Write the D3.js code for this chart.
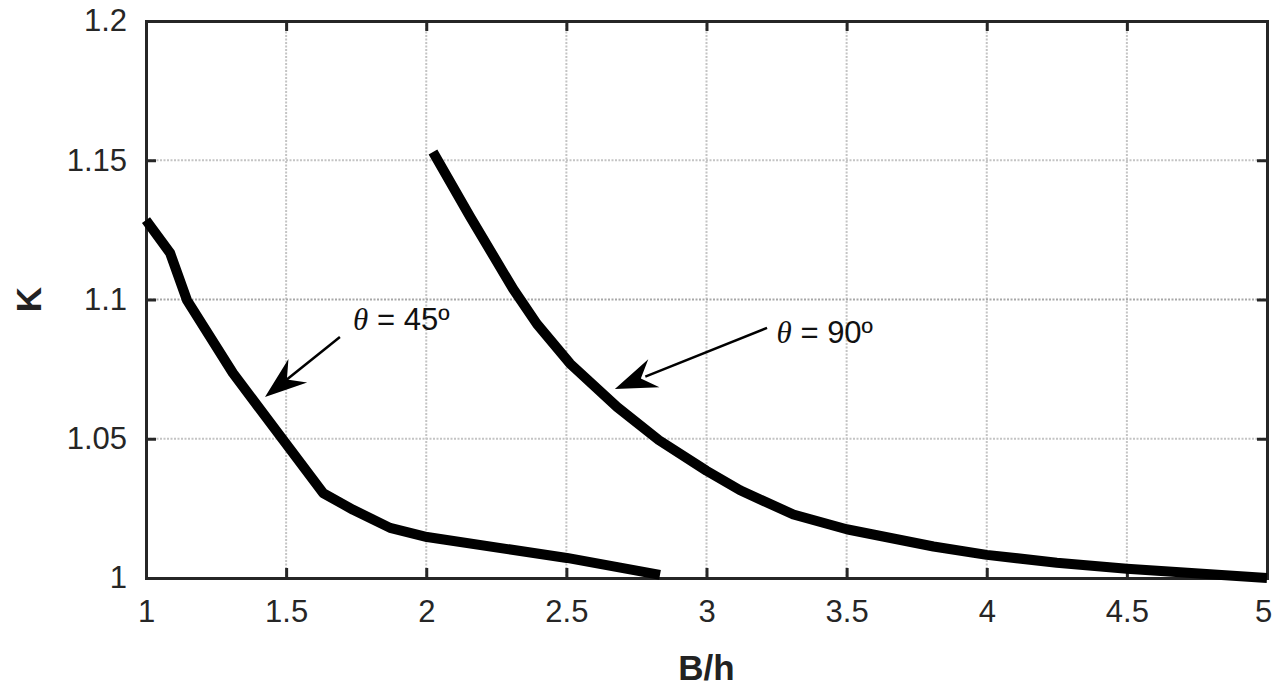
<!DOCTYPE html>
<html>
<head>
<meta charset="utf-8">
<script src="https://cdn.jsdelivr.net/npm/d3@7"></script>
<style>
  body { margin: 0; background: #fff; }
  svg { display: block; font-family: "Liberation Sans", Arial, sans-serif; }
</style>
</head>
<body>
<div id="chart"></div>
<script>
// data
const xTicks = [1, 1.5, 2, 2.5, 3, 3.5, 4, 4.5, 5];
const yTicks = [1, 1.05, 1.1, 1.15, 1.2];

const bh45 = [1.0, 1.086, 1.146, 1.31, 1.489, 1.632, 1.739, 1.871, 2.003, 2.502, 2.834];
const k45  = [1.1285, 1.1167, 1.0998, 1.0736, 1.0496, 1.0305, 1.0245, 1.018, 1.0147, 1.0072, 1.0011];

const bh90 = [2.024, 2.156, 2.31, 2.395, 2.513, 2.681, 2.83, 3.0, 3.12, 3.31, 3.5, 3.81, 4.0, 4.25, 4.5, 5.0];
const k90  = [1.153, 1.1298, 1.1038, 1.0912, 1.077, 1.0614, 1.0495, 1.0385, 1.0315, 1.0228, 1.0175, 1.0113, 1.0083, 1.0055, 1.0033, 1.0];

// annotations: label position, arrow tail and tip (data coords)
const notes = [
    { label: "45º", tx: 1.739, ty: 1.089, x0: 1.692, y0: 1.0865, x1: 1.4246, y1: 1.065 },
    { label: "90º", tx: 3.25, ty: 1.0845, x0: 3.216, y0: 1.0898, x1: 2.673, y1: 1.0679 }
];

const W = 1272, H = 686;
const margin = { top: 21, right: 5, bottom: 108, left: 146 };
const iw = W - margin.left - margin.right;
const ih = H - margin.top - margin.bottom;

const x = d3.scaleLinear().domain([1, 5]).range([0, iw]);
const y = d3.scaleLinear().domain([1, 1.2]).range([ih, 0]);

const svg = d3.select("#chart").append("svg")
    .attr("width", W)
    .attr("height", H);

const g = svg.append("g").attr("transform", `translate(${margin.left},${margin.top})`);

// grid
g.append("g").selectAll("line")
    .data(xTicks.slice(1, -1))
    .enter().append("line")
    .attr("x1", d => x(d)).attr("x2", d => x(d))
    .attr("y1", 0).attr("y2", ih)
    .attr("stroke", "#c4c4c4")
    .attr("stroke-width", 2)
    .attr("stroke-dasharray", "2,1.5");

g.append("g").selectAll("line")
    .data(yTicks.slice(1, -1))
    .enter().append("line")
    .attr("x1", 0).attr("x2", iw)
    .attr("y1", d => y(d)).attr("y2", d => y(d))
    .attr("stroke", d => d === 1.1 ? "#a8a8a8" : "#c4c4c4")
    .attr("stroke-width", 2)
    .attr("stroke-dasharray", "2,1.5");

// axes
const axisColor = "#262626";
const xAxis = g.append("g").attr("transform", `translate(0,${ih})`)
    .call(d3.axisBottom(x).tickValues(xTicks).tickSize(-10).tickPadding(22).tickFormat(d3.format("")));
const yAxis = g.append("g")
    .call(d3.axisLeft(y).tickValues(yTicks).tickSize(-10).tickPadding(19).tickFormat(d3.format("")));
const xTop = g.append("g")
    .call(d3.axisTop(x).tickValues(xTicks).tickSize(-10).tickFormat(""));
const yRight = g.append("g").attr("transform", `translate(${iw},0)`)
    .call(d3.axisRight(y).tickValues(yTicks).tickSize(-10).tickFormat(""));

[xAxis, yAxis, xTop, yRight].forEach(a => {
    a.select(".domain").attr("stroke", axisColor).attr("stroke-width", 3);
    a.selectAll(".tick line").attr("stroke", axisColor).attr("stroke-width", 3);
    a.selectAll(".tick text")
        .attr("fill", axisColor)
        .style("font-size", "31px");
});
xAxis.selectAll(".tick text").attr("dy", "0.71em");
// last label sits right at the edge, as in the picture
xAxis.selectAll(".tick text").filter(d => d === 5).attr("dx", "-4");

// curves
const line = d3.line()
    .x(d => x(d[0]))
    .y(d => y(d[1]));

[[bh45, k45], [bh90, k90]].forEach(([bx, ky]) => {
    g.append("path")
        .datum(bx.map((v, i) => [v, ky[i]]))
        .attr("d", line)
        .attr("fill", "none")
        .attr("stroke", "#000")
        .attr("stroke-width", 10)
        .attr("stroke-linejoin", "round");
});

// annotations
notes.forEach(n => {
    const t = g.append("text")
        .attr("x", x(n.tx))
        .attr("y", y(n.ty))
        .attr("fill", "#111")
        .style("font-size", "31px");
    t.append("tspan")
        .style("font-family", "'Liberation Serif', 'DejaVu Serif', serif")
        .style("font-style", "italic")
        .text("θ");
    t.append("tspan").text(" = " + n.label);

    const x0 = x(n.x0), y0 = y(n.y0), x1 = x(n.x1), y1 = y(n.y1);
    const ang = Math.atan2(y1 - y0, x1 - x0) * 180 / Math.PI;
    g.append("line")
        .attr("x1", x0).attr("y1", y0)
        .attr("x2", x1 - (x1 - x0) * 0.2).attr("y2", y1 - (y1 - y0) * 0.2)
        .attr("stroke", "#000")
        .attr("stroke-width", 2.5);
    g.append("path")
        .attr("d", "M0,0 L-42,-15 L-28,0 L-42,15 Z")
        .attr("transform", `translate(${x1},${y1}) rotate(${ang})`)
        .attr("fill", "#000");
});

// axis labels
svg.append("text")
    .attr("x", margin.left + iw / 2)
    .attr("y", 680)
    .attr("text-anchor", "middle")
    .attr("fill", "#222")
    .style("font-size", "35px")
    .style("font-weight", "bold")
    .text("B/h");

svg.append("text")
    .attr("transform", `translate(41,${margin.top + ih / 2}) rotate(-90)`)
    .attr("text-anchor", "middle")
    .attr("fill", "#222")
    .style("font-size", "35px")
    .style("font-weight", "bold")
    .text("K");
</script>
</body>
</html>
